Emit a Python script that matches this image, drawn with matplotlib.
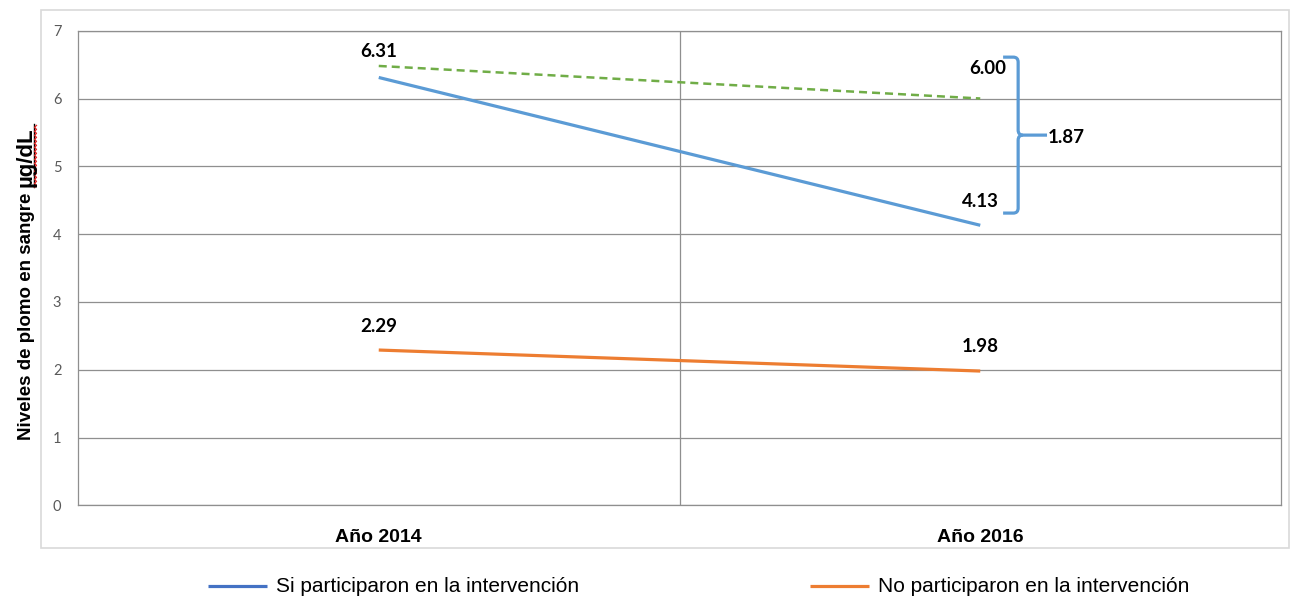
import matplotlib
matplotlib.use("Agg")
import numpy as np
import matplotlib.pyplot as plt
from matplotlib.path import Path
from matplotlib.patches import PathPatch, Rectangle
from matplotlib.lines import Line2D

# Data
years = ["Año 2014", "Año 2016"]
participated = [6.31, 4.13]
not_participated = [2.29, 1.98]
reference_trend = [6.48, 6.00]
series_labels = ["Si participaron en la intervención", "No participaron en la intervención"]
y_ticks = [0, 1, 2, 3, 4, 5, 6, 7]

BLUE = "#5B9BD5"
BLUE_LEG = "#4472C4"
ORANGE = "#ED7D31"
GREEN = "#70AD47"
GRID = "#8f8f8f"

W, H = 1290, 597
fig = plt.figure(figsize=(W / 100, H / 100), dpi=100)

def fx(px):
    return px / W

def fy(py):
    return 1 - py / H

# Outer chart frame
fig.add_artist(Rectangle((fx(41), fy(548)), fx(1289) - fx(41), fy(10) - fy(548),
                         transform=fig.transFigure, fill=False,
                         edgecolor="#d9d9d9", lw=1.2))

ax = fig.add_axes([fx(78), fy(505.3), fx(1281) - fx(78), fy(30.7) - fy(505.3)])
xpos = np.arange(len(years))
ax.set_xlim(-0.5, len(years) - 0.5)
ax.set_ylim(y_ticks[0], y_ticks[-1])

# Grid and frame
ax.set_yticks(y_ticks)
ax.set_xticks(xpos)
ax.set_xticks([0.5], minor=True)
ax.grid(axis="y", which="major", color=GRID, lw=0.9)
ax.grid(axis="x", which="minor", color=GRID, lw=0.9)
ax.set_axisbelow(True)
for s in ax.spines.values():
    s.set_color(GRID)
    s.set_linewidth(0.9)
ax.tick_params(axis="both", which="both", length=0)
ax.tick_params(axis="y", pad=12, labelsize=10.5, labelcolor="#595959")
ax.tick_params(axis="x", pad=17)
for t in ax.get_yticklabels():
    t.set_family("Lato")
ax.set_xticklabels(years, fontsize=14, fontweight="bold",
                   family="Liberation Sans")

# Series
ax.plot(xpos, participated, color=BLUE, lw=2.3, solid_capstyle="butt")
ax.plot(xpos, not_participated, color=ORANGE, lw=2.3, solid_capstyle="butt")
ax.plot(xpos, reference_trend, color=GREEN, lw=1.8,
        linestyle=(0, (3.2, 2.0)), dash_capstyle="butt")

# Value labels
lab_kw = dict(textcoords="offset pixels", ha="center", va="center",
              fontsize=13.5, fontweight="bold", family="Lato", color="black")
ax.annotate(f"{participated[0]:.2f}", (xpos[0], participated[0]), xytext=(0, 26), **lab_kw)
ax.annotate(f"{participated[1]:.2f}", (xpos[1], participated[1]), xytext=(0, 24), **lab_kw)
ax.annotate(f"{reference_trend[1]:.2f}", (xpos[1], reference_trend[1]), xytext=(7, 30), **lab_kw)
ax.annotate(f"{not_participated[0]:.2f}", (xpos[0], not_participated[0]), xytext=(0, 24), **lab_kw)
ax.annotate(f"{not_participated[1]:.2f}", (xpos[1], not_participated[1]), xytext=(0, 25), **lab_kw)

# Brace showing the gap at the final year
gap = reference_trend[1] - participated[1]
top = reference_trend[1] + 0.61
bot = participated[1] + 0.18
mid = (top + bot) / 2
xb = xpos[1] + 0.063
xl = xb - 0.025
xr = xb + 0.048
rx, ry = 0.008, 0.075
verts = [
    (xl, top), (xb - rx, top), (xb, top), (xb, top - ry),
    (xb, mid + ry), (xb, mid), (xb + rx, mid), (xr, mid),
]
codes = [Path.MOVETO, Path.LINETO, Path.CURVE3, Path.CURVE3,
         Path.LINETO, Path.CURVE3, Path.CURVE3, Path.LINETO]
verts2 = [
    (xl, bot), (xb - rx, bot), (xb, bot), (xb, bot + ry),
    (xb, mid - ry), (xb, mid), (xb + rx, mid),
]
codes2 = [Path.MOVETO, Path.LINETO, Path.CURVE3, Path.CURVE3,
          Path.LINETO, Path.CURVE3, Path.CURVE3]
for v, c in ((verts, codes), (verts2, codes2)):
    ax.add_patch(PathPatch(Path(v, c), fill=False, edgecolor=BLUE, lw=2.3,
                           capstyle="butt", joinstyle="round", clip_on=False))
ax.annotate(f"{gap:.2f}", (xr, mid), xytext=(1, -2), textcoords="offset pixels",
            ha="left", va="center", fontsize=13.5, fontweight="bold",
            family="Lato", color="black", annotation_clip=False)

# Y axis title
t1 = fig.text(fx(31), fy(440), "Niveles de plomo en sangre ", rotation=90,
              rotation_mode="anchor", ha="left", va="baseline",
              fontsize=13.5, fontweight="bold", family="Liberation Sans")
fig.canvas.draw()
bb = t1.get_window_extent(fig.canvas.get_renderer())
y_unit_start = 440 - bb.height
fig.text(fx(31), fy(y_unit_start), "µg/dL", rotation=90, rotation_mode="anchor",
         ha="left", va="baseline", fontsize=16, fontweight="bold",
         family="Liberation Sans")
# underline and spell-check squiggle under the unit
fig.add_artist(Line2D([fx(33.5), fx(33.5)], [fy(y_unit_start), fy(y_unit_start - 63)],
                      transform=fig.transFigure, color="black", lw=1.0))
sq_y = np.arange(y_unit_start, y_unit_start - 64, -2.0)
sq_x = 35.5 + np.where(np.arange(len(sq_y)) % 2 == 0, -1.0, 1.0)
fig.add_artist(Line2D(fx(sq_x), fy(sq_y), transform=fig.transFigure,
                      color="#e02020", lw=0.9))

# Legend
leg_y = 586
leg_items = [(series_labels[0], BLUE_LEG, 208), (series_labels[1], ORANGE, 810)]
for label, col, x0 in leg_items:
    fig.add_artist(Line2D([fx(x0), fx(x0 + 59)], [fy(leg_y), fy(leg_y)],
                          transform=fig.transFigure, color=col, lw=2.3,
                          solid_capstyle="butt"))
    fig.text(fx(x0 + 68), fy(leg_y + 1), label, ha="left", va="center",
             fontsize=15, family="Liberation Sans", color="black")

fig.savefig("out.png", dpi=100, facecolor="white")
